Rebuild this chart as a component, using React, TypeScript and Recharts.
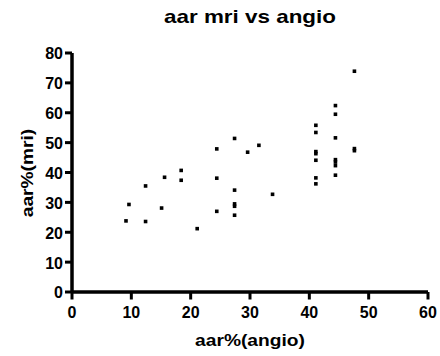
import { ScatterChart, Scatter, XAxis, YAxis, Label, ReferenceLine } from "recharts";

const angio = [
  9.1, 9.6, 12.4, 12.4, 15.1, 15.6, 18.4, 18.4, 21.1, 24.4, 24.4, 24.4,
  27.4, 27.4, 27.4, 27.4, 27.4, 29.6, 31.5, 33.8,
  41.1, 41.1, 41.1, 41.1, 41.1, 41.1, 41.1,
  44.4, 44.4, 44.4, 44.4, 44.4, 44.4, 44.4,
  47.6, 47.6, 47.6,
];
const mri = [
  23.8, 29.3, 35.5, 23.6, 28.1, 38.4, 40.7, 37.4, 21.2, 47.9, 38.1, 27.0,
  51.4, 34.1, 29.5, 28.7, 25.7, 46.8, 49.1, 32.7,
  55.8, 53.4, 47.0, 46.3, 44.1, 38.2, 36.2,
  62.4, 59.5, 51.6, 44.3, 43.5, 42.3, 39.1,
  73.9, 48.0, 47.3,
];
const xTicks = [0, 10, 20, 30, 40, 50, 60];
const yTicks = [0, 10, 20, 30, 40, 50, 60, 70, 80];

const points = angio.map((x, i) => ({ x, y: mri[i] }));

const font = "Arial, 'Liberation Sans', sans-serif";
const TICK = 7;
const X_MARGIN = 7;
const Y_MARGIN = 2;

const SquareDot = (props: any) => {
  const s = 3.6;
  return <rect x={props.cx - s / 2} y={props.cy - s / 2} width={s} height={s} fill="#000" />;
};

// tick mark + label drawn together so the stroke is thick like the original
const XTick = (props: any) => {
  const { x, y, payload } = props;
  return (
    <g>
      <line x1={x} x2={x} y1={y - X_MARGIN - TICK} y2={y - X_MARGIN + 0.5} stroke="#000" strokeWidth={3} />
      <text x={x} y={y} dy="0.72em" textAnchor="middle" fontFamily={font} fontWeight={700} fontSize={16} fill="#000">
        {payload.value}
      </text>
    </g>
  );
};

const YTick = (props: any) => {
  const { x, y, payload } = props;
  return (
    <g>
      <line x1={x + Y_MARGIN} x2={x + Y_MARGIN + TICK} y1={y} y2={y} stroke="#000" strokeWidth={3} />
      <text x={x} y={y} dy="0.4em" textAnchor="end" fontFamily={font} fontWeight={700} fontSize={16} fill="#000">
        {payload.value}
      </text>
    </g>
  );
};

// axis titles in the original are a bit wider than plain Arial
const AxisTitle = ({ x, y, rotate, text }: { x: number; y: number; rotate?: boolean; text: string }) => (
  <text
    x={0}
    y={0}
    transform={`translate(${x},${y})${rotate ? " rotate(-90)" : ""} scale(1.2,1)`}
    textAnchor="middle"
    fontFamily={font}
    fontWeight={700}
    fontSize={16}
    fill="#000"
  >
    {text}
  </text>
);

export default function App() {
  return (
    <div style={{ position: "absolute", left: 0, top: 0, width: 440, height: 356, background: "#fff" }}>
      <div
        style={{
          position: "absolute",
          left: 0,
          width: 500,
          top: 6,
          textAlign: "center",
          fontFamily: font,
          fontWeight: 700,
          fontSize: 19,
          lineHeight: "22px",
          transform: "scaleX(1.18)",
          transformOrigin: "250px 0",
        }}
      >
        aar mri vs angio
      </div>
      <ScatterChart width={440} height={356} margin={{ top: 53, right: 12, bottom: 34, left: 0 }}>
        <XAxis
          type="number"
          dataKey="x"
          domain={[0, 60]}
          ticks={xTicks}
          interval={0}
          height={30}
          tick={<XTick />}
          tickSize={TICK}
          tickMargin={X_MARGIN}
          axisLine={false}
          tickLine={false}
        >
          <Label content={() => <AxisTitle x={250} y={346} text="aar%(angio)" />} />
        </XAxis>
        <YAxis
          type="number"
          dataKey="y"
          domain={[0, 80]}
          ticks={yTicks}
          interval={0}
          width={72}
          tick={<YTick />}
          tickSize={TICK}
          tickMargin={Y_MARGIN}
          axisLine={false}
          tickLine={false}
        >
          <Label content={() => <AxisTitle x={33} y={173} rotate text="aar%(mri)" />} />
        </YAxis>
        <ReferenceLine y={0} stroke="#000" strokeWidth={3.5} />
        <ReferenceLine x={0} stroke="#000" strokeWidth={3.5} />
        <Scatter data={points} fill="#000" shape={SquareDot} isAnimationActive={false} />
      </ScatterChart>
    </div>
  );
}
